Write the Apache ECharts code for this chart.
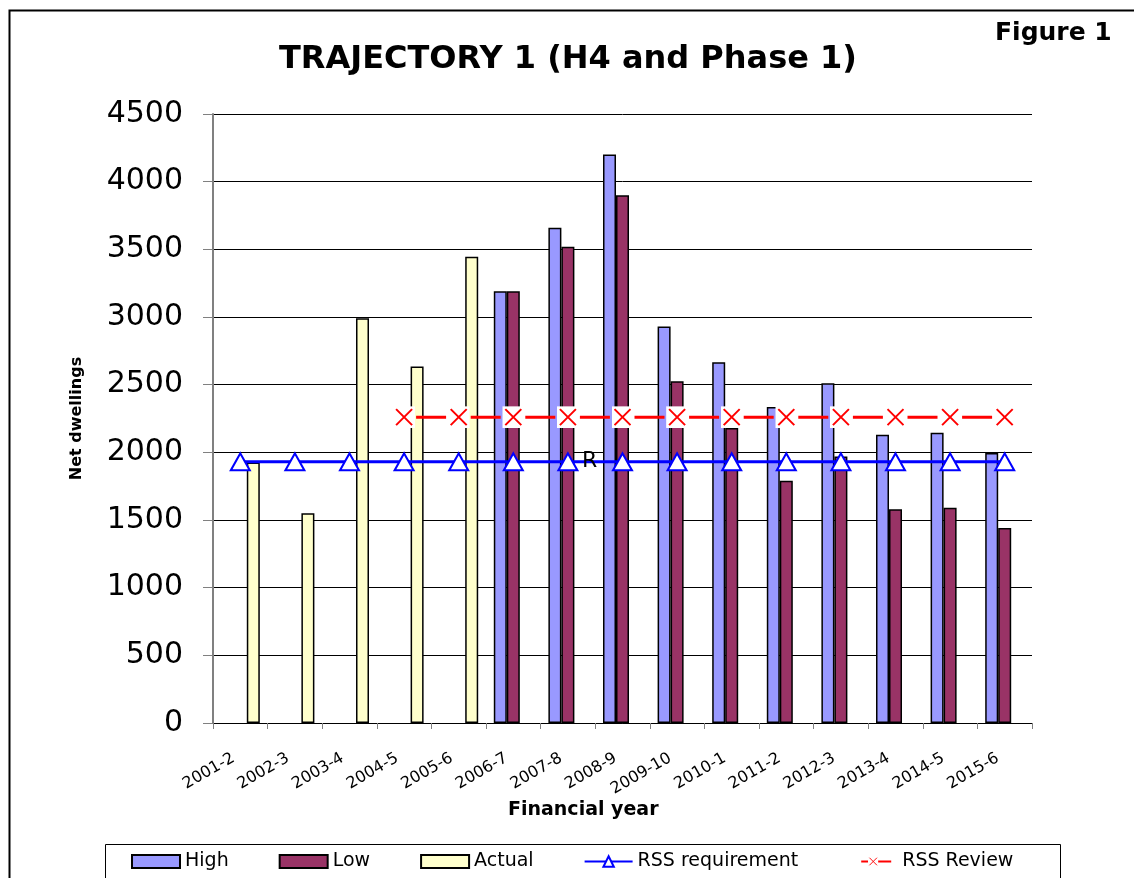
<!DOCTYPE html>
<html>
<head>
<meta charset="utf-8">
<title>Trajectory 1</title>
<script src="https://cdn.jsdelivr.net/npm/echarts@6/dist/echarts.min.js"></script>
<style>
  html, body { margin: 0; padding: 0; background: #fff; }
  #main { width: 1134px; height: 878px; }
</style>
</head>
<body>
<div id="main"></div>
<script>
// data
var years = ['2001-2', '2002-3', '2003-4', '2004-5', '2005-6', '2006-7', '2007-8', '2008-9',
             '2009-10', '2010-1', '2011-2', '2012-3', '2013-4', '2014-5', '2015-6'];
var high = [null, null, null, null, null, 3190, 3660, 4200, 2930, 2665, 2335, 2510, 2130, 2145, 1995];
var low = [null, null, null, null, null, 3190, 3520, 3900, 2525, 2180, 1790, 1970, 1580, 1590, 1440];
var actual = [1925, 1550, 2990, 2635, 3445, null, null, null, null, null, null, null, null, null, null];
var rssRequirement = [1930, 1930, 1930, 1930, 1930, 1930, 1930, 1930, 1930, 1930, 1930, 1930, 1930, 1930, 1930];
var rssReview = [null, null, null, 2260, 2260, 2260, 2260, 2260, 2260, 2260, 2260, 2260, 2260, 2260, 2260];
var yTicks = { min: 0, max: 4500, step: 500 };

var FONT = 'DejaVu Sans';

// excel style X marker : red cross on white square
var crossSvg = '<svg xmlns="http://www.w3.org/2000/svg" width="22" height="22">' +
    '<rect x="0" y="0" width="22" height="22" fill="#fff"/>' +
    '<path d="M3,3 L19,19 M19,3 L3,19" stroke="#ff0000" stroke-width="2" fill="none"/></svg>';
var crossSymbol = 'image://data:image/svg+xml;charset=utf-8,' + encodeURIComponent(crossSvg);

var myChart = echarts.init(document.getElementById('main'));

var option = {
    backgroundColor: '#fff',
    animation: false,
    title: [
        { text: 'TRAJECTORY 1 (H4 and Phase 1)', left: 274, top: 39,
          textStyle: { fontFamily: FONT, fontSize: 32, fontWeight: 'bold', color: '#000' } },
        { text: 'Figure 1', left: 990, top: 16,
          textStyle: { fontFamily: FONT, fontSize: 25, fontWeight: 'bold', color: '#000' } },
        { text: 'Financial year', left: 503, top: 796,
          textStyle: { fontFamily: FONT, fontSize: 19, fontWeight: 'bold', color: '#000' } }
    ],
    grid: { left: 213, right: 102, top: 114, bottom: 155, containLabel: false },
    legend: {
        left: 126, top: 847,
        itemWidth: 48, itemHeight: 13, itemGap: 50,
        textStyle: { fontFamily: FONT, fontSize: 19, color: '#000' },
        data: [
            { name: 'High', icon: 'rect' },
            { name: 'Low', icon: 'rect' },
            { name: 'Actual', icon: 'rect' },
            { name: 'RSS requirement' },
            { name: 'RSS Review' }
        ]
    },
    xAxis: {
        type: 'category',
        data: years,
        axisLine: { lineStyle: { color: '#000', width: 1 } },
        axisTick: { show: true, length: 6, lineStyle: { color: '#808080' } },
        axisLabel: { interval: 0, rotate: 30, margin: 30, padding: [0, 8, 0, 0],
                     fontFamily: FONT, fontSize: 16, color: '#000' }
    },
    yAxis: {
        type: 'value',
        min: yTicks.min, max: yTicks.max, interval: yTicks.step,
        name: 'Net dwellings',
        nameLocation: 'middle',
        nameGap: 128,
        nameTextStyle: { fontFamily: FONT, fontSize: 16, fontWeight: 'bold', color: '#000' },
        axisLine: { show: true, lineStyle: { color: '#808080', width: 2 } },
        axisTick: { show: true, length: 10, lineStyle: { color: '#808080' } },
        axisLabel: { margin: 30, fontFamily: FONT, fontSize: 30, color: '#000',
                     formatter: function (v) { return String(v); } },
        splitLine: { lineStyle: { color: '#000', width: 1 } }
    },
    series: [
        { name: 'High', type: 'bar', data: high, barWidth: 13, barGap: '0%',
          itemStyle: { color: '#9999ff', borderColor: '#000', borderWidth: 1.5 } },
        { name: 'Low', type: 'bar', data: low, barWidth: 13, barGap: '0%',
          itemStyle: { color: '#993366', borderColor: '#000', borderWidth: 1.5 } },
        { name: 'Actual', type: 'bar', data: actual, barWidth: 13, barGap: '0%',
          itemStyle: { color: '#ffffcc', borderColor: '#000', borderWidth: 1.5 } },
        { name: 'RSS requirement', type: 'line', data: rssRequirement, z: 5,
          symbol: 'triangle', symbolSize: [19, 17],
          lineStyle: { color: '#0000ff', width: 3 },
          itemStyle: { color: '#fff', borderColor: '#0000ff', borderWidth: 2 } },
        { name: 'RSS Review', type: 'line', data: rssReview, z: 6,
          symbol: crossSymbol, symbolSize: 22,
          lineStyle: { color: '#ff0000', width: 3, type: [30, 24.6], dashOffset: 42.6 },
          itemStyle: { color: '#ff0000' } }
    ],
    graphic: [
        // outer chart frame
        { type: 'rect', left: 7, top: 8, silent: true, z: -1,
          shape: { width: 1140, height: 900 },
          style: { fill: 'none', stroke: '#000', lineWidth: 2 } },
        // legend frame
        { type: 'rect', left: 103, top: 842, silent: true, z: -1,
          shape: { width: 955, height: 60 },
          style: { fill: 'none', stroke: '#000', lineWidth: 1 } },
        // stray label on the plot
        { type: 'text', left: 582, top: 450, z: 10,
          style: { text: 'R', fontFamily: FONT, fontSize: 22, fill: '#000' } }
    ]
};

myChart.setOption(option);
</script>
</body>
</html>
